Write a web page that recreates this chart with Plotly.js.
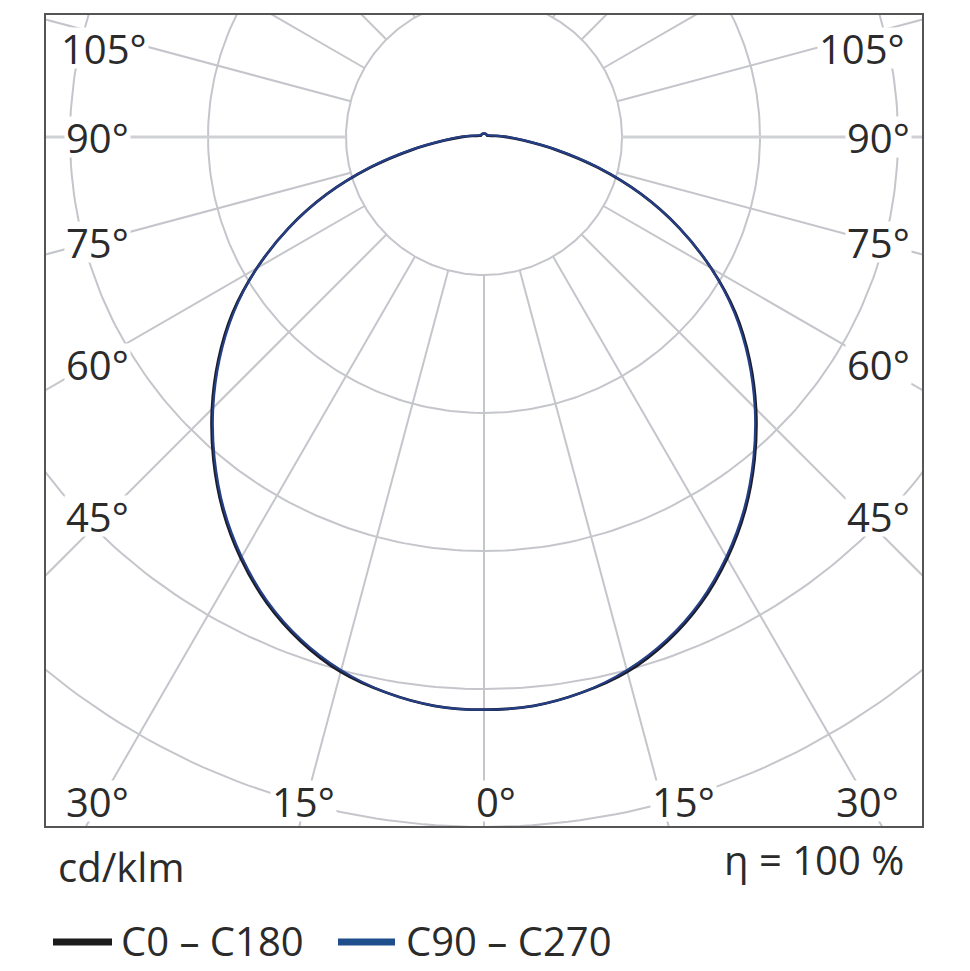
<!DOCTYPE html>
<html>
<head>
<meta charset="utf-8">
<script src="https://cdn.plot.ly/plotly-3.0.1.min.js"></script>
<style>
html,body{margin:0;padding:0;background:#fff;}
#chart{width:970px;height:971px;}
</style>
</head>
<body>
<div id="chart"></div>
<script>
// ---------------- DATA ----------------
// gamma angle (deg, 0 = nadir) of the photometric measurement
const gammaDeg = [0,5,10,15,20,25,30,35,40,45,50,55,60,65,70,75,80,85,90,
                  95,100,105,110,115,120,125,130,135,140,145,150,155,160,165,170,175,180];
// luminous intensity in cd/klm, plane C0 – C180 (mirrored: C180 left, C0 right)
const intensityC0C180 = [332,331,327,321,311,298,282,264,244,223,201,178,152,125,97,68,42,23,13,
                         7,4,3,2.5,2,2,2,2,2,2,2,2,2,2,2,2,2,2];
// luminous intensity in cd/klm, plane C90 – C270 (mirrored: C270 left, C90 right)
const intensityC90C270 = [332,331,327,320,310,297,281,263,243,222,200,177,152,125,97,69,43,24,14,
                          8,5,3.5,3,2.5,2,2,2,2,2,2,2,2,2,2,2,2,2];
// polar grid: rings (cd/klm) and spokes (deg)
const gridRings = [80,160,240,320,400,480];
const gridSpokes = [-165,-150,-135,-120,-105,-75,-60,-45,-30,-15,0,15,30,45,60,75,105,120,135,150,165,180];
const horizontalSpokes = [-90,90];
// texts
const angleLabelsLeft  = ['105°','90°','75°','60°','45°'];
const angleLabelsRight = ['105°','90°','75°','60°','45°'];
const angleLabelsBottom = ['30°','15°','0°','15°','30°'];
const seriesNames = ['C0 – C180','C90 – C270'];
const unitLabel = 'cd/klm';
const efficiencyLabel = 'η = 100 %';

// ---------------- BUILD ----------------
const D2R = Math.PI/180;
function polarXY(r, gDeg){ return [r*Math.sin(gDeg*D2R), -r*Math.cos(gDeg*D2R)]; }

function planeCurve(vals){
  const x=[], y=[];
  for(let i=gammaDeg.length-1;i>=0;i--){ const p=polarXY(vals[i], -gammaDeg[i]); x.push(p[0]); y.push(p[1]); }
  for(let i=1;i<gammaDeg.length;i++){ const p=polarXY(vals[i], gammaDeg[i]); x.push(p[0]); y.push(p[1]); }
  return {x,y};
}

const ringX=[], ringY=[];
gridRings.forEach(r=>{
  for(let a=0;a<=360;a+=1){ const p=polarXY(r,a); ringX.push(p[0]); ringY.push(p[1]); }
  ringX.push(null); ringY.push(null);
});
function spokeTrace(list){
  const x=[], y=[];
  const r0 = gridRings[0], r1 = gridRings[gridRings.length-1]+100;
  list.forEach(a=>{
    const p0=polarXY(r0,a), p1=polarXY(r1,a);
    x.push(p0[0],p1[0],null); y.push(p0[1],p1[1],null);
  });
  return {x,y};
}
const spokes = spokeTrace(gridSpokes);
const hSpokes = spokeTrace(horizontalSpokes);

const gridColor = '#c4c6cb';
const c0 = planeCurve(intensityC0C180);
const c90 = planeCurve(intensityC90C270);

const traces = [
  {x:ringX, y:ringY, mode:'lines', line:{color:gridColor,width:2}, hoverinfo:'skip', showlegend:false},
  {x:spokes.x, y:spokes.y, mode:'lines', line:{color:gridColor,width:2}, hoverinfo:'skip', showlegend:false},
  {x:hSpokes.x, y:hSpokes.y, mode:'lines', line:{color:'#d0d1d4',width:3}, hoverinfo:'skip', showlegend:false},
  {x:c0.x, y:c0.y, mode:'lines', name:seriesNames[0], line:{color:'#1c1c2a',width:2.8,shape:'spline',smoothing:1}, showlegend:false},
  {x:c90.x, y:c90.y, mode:'lines', name:seriesNames[1], line:{color:'#243f86',width:2.2,shape:'spline',smoothing:1}, showlegend:false}
];

// pixel -> paper helpers (plot area: x 46..922, y 15..826)
const PL=46, PR=922, PT=15, PB=826;
const fx = px => (px-PL)/(PR-PL);
const fy = py => (PB-py)/(PB-PT);

const labelFont = {family:'Open Sans, sans-serif', size:40, color:'#2b2b2b'};
const annotations = [];
function addLabel(text, px, py, xanchor, mask){
  const a = {text:text, xref:'paper', yref:'paper', x:fx(px), y:fy(py),
    xanchor:xanchor||'center', yanchor:'middle', showarrow:false, font:labelFont,
    bgcolor: mask===false ? 'rgba(0,0,0,0)' : '#ffffff', borderpad:1};
  if(mask!==false){ a.height = 38; }
  annotations.push(a);
}
const leftPos  = [[104,48],[97,137],[97,242],[97,364],[97,516]];
const rightPos = [[862,48],[878,137],[878,242],[878,364],[878,516]];
const bottomPos= [[97,801],[303,801],[496,801],[683,801],[867,801]];
angleLabelsLeft.forEach((t,i)=>addLabel(t,leftPos[i][0],leftPos[i][1]));
angleLabelsRight.forEach((t,i)=>addLabel(t,rightPos[i][0],rightPos[i][1]));
angleLabelsBottom.forEach((t,i)=>addLabel(t,bottomPos[i][0],bottomPos[i][1]));
addLabel(unitLabel, 56, 866, 'left', false);
addLabel(efficiencyLabel, 906, 859, 'right', false);
addLabel(seriesNames[0], 119, 940, 'left', false);
addLabel(seriesNames[1], 404, 940, 'left', false);

const shapes = [
  {type:'line', xref:'paper', yref:'paper', x0:fx(53), x1:fx(112), y0:fy(942), y1:fy(942), line:{color:'#1c1c1c',width:7}},
  {type:'line', xref:'paper', yref:'paper', x0:fx(338), x1:fx(395), y0:fy(942), y1:fy(942), line:{color:'#1f4e8c',width:7}}
];

// data ranges: 80 cd/klm = 138 px
const S = 138/80;
const layout = {
  width:970, height:971,
  margin:{l:PL, r:970-PR, t:PT, b:971-PB, pad:0},
  paper_bgcolor:'#ffffff', plot_bgcolor:'#ffffff',
  showlegend:false,
  xaxis:{range:[(PL-484)/S,(PR-484)/S], showgrid:false, zeroline:false, showticklabels:false, ticks:'',
         showline:true, mirror:true, linecolor:'#555555', linewidth:2, fixedrange:true},
  yaxis:{range:[(137-PB)/S,(137-PT)/S], showgrid:false, zeroline:false, showticklabels:false, ticks:'',
         showline:true, mirror:true, linecolor:'#555555', linewidth:2, fixedrange:true},
  annotations:annotations,
  shapes:shapes
};
Plotly.newPlot('chart', traces, layout, {staticPlot:true, displayModeBar:false});
</script>
</body>
</html>
